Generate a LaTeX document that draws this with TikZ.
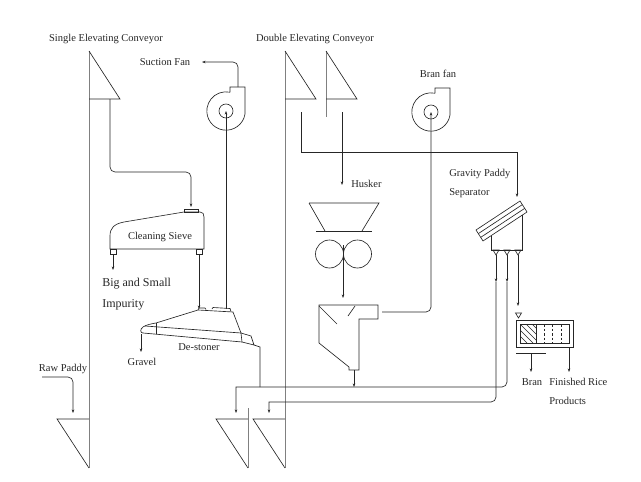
\documentclass[tikz,border=0pt]{standalone}
\usepackage{fontspec}
\setmainfont{Liberation Serif}
\usetikzlibrary{arrows.meta,calc}

\begin{document}
\begin{tikzpicture}[x=1pt,y=-1pt,line width=0.65pt,color=black!85,
    >={Stealth[length=3.5pt,width=2.6pt]},
    elev/.style={draw=black!50,line width=1pt},
    lbl/.style={font=\fontsize{10.5}{12}\selectfont,inner sep=0pt},
    big/.style={font=\fontsize{12}{14}\selectfont,inner sep=0pt,anchor=west},
    flow/.style={->,rounded corners=5pt}]
    \useasboundingbox (0,0) rectangle (641,482);

    % elevating conveyors
    \draw[elev] (89,51) -- (89,468);
    \draw[elev] (285,51) -- (285,468);
    \draw[elev] (326,51) -- (326,117);
    \draw[elev] (248,408) -- (248,468);
    \foreach \x in {89,285,326}
        \draw (\x,51) -- (\x+31,99) -- (\x,99);
    \foreach \x in {89,248,285}
        \draw (\x,419) -- (\x-32,419) -- (\x,468);
    \coordinate (c1-out) at (110,99);
    \coordinate (c2-out) at (301,112);
    \coordinate (c3-out) at (342,112);
    \coordinate (c1-in) at (73,413);
    \coordinate (c2-in) at (236,413);
    \coordinate (c3-in) at (269,413);
    \node[lbl] (single) at (106,39) {Single Elevating Conveyor};
    \node[lbl] (double) at (315,39) {Double Elevating Conveyor};

    % fans
    \foreach \cx/\cy/\nm in {226/111/sfan,431/112/bfan}{
        \draw (\cx,\cy) circle (7);
        \draw (\cx+4,\cy-19) -- (\cx+4,\cy-24) -- (\cx+19,\cy-24) -- (\cx+19,\cy+3)
            arc[start angle=9,end angle=282,radius=19.2];
        \coordinate (\nm) at (\cx,\cy);
    }
    \node[lbl] (suction) at (165,62) {Suction Fan};
    \node[lbl] (branfan) at (438,74) {Bran fan};
    \coordinate (sfan-out) at (238,87);
    \coordinate (sfan-tip) at (202,62);
    \draw[flow] (sfan-out) |- (sfan-tip);

    % cleaning sieve
    \draw (110,249) -- (110,236) .. controls (110,228) and (114,224) .. (124,222)
        -- (184,212) -- (200,212) .. controls (203,212) and (204,214) .. (204,217)
        -- (204,249) -- cycle;
    \draw (184,209) rectangle (198,212);
    \draw (110,249) rectangle (116,254);
    \draw (196,249) rectangle (202,254);
    \node[lbl] (sieve) at (160,237) {Cleaning Sieve};
    \coordinate (sieve-in) at (191,207);
    \coordinate (sieve-rej) at (113,254);
    \coordinate (rej-tip) at (113,270);
    \coordinate (sieve-out) at (199,254);
    \draw[flow] (c1-out) -- (110,172) -| (sieve-in);
    \draw[->] (sieve-rej) -- (rej-tip);
    \node[big] (bigsmall) at (102,284) {Big and Small};
    \node[big] (impurity) at (102,305) {Impurity};

    % de-stoner
    \draw (143,333) .. controls (140,333) and (140,329) .. (143,327)
        .. controls (146,325) and (150,324) .. (156,323) -- (198,310) -- (233,312)
        -- (241,333) -- (251,336) -- (254,345) -- (242,342) -- cycle;
    \draw (145,326) -- (241,333) -- (242,342);
    \draw (156,323) -- (156,334);
    \draw (198,310) -- (199,308) -- (205,308) -- (206,309.5);
    \draw (212,309) -- (213,307.5) -- (230,308.5) -- (231,311.5);
    \node[lbl] (destoner) at (199,347) {De-stoner};
    \node[lbl] (gravel) at (142,362) {Gravel};
    \coordinate (ds-in) at (199,309);
    \coordinate (ds-air) at (226,309);
    \coordinate (ds-grav) at (141,334);
    \coordinate (grav-tip) at (141,352);
    \coordinate (ds-out) at (254,345);
    \draw[->] (sieve-out) -- (ds-in);
    \draw[->] (ds-air) -- (sfan);
    \draw[->] (ds-grav) -- (grav-tip);
    \draw (ds-out) -- (260,347) -- (260,387);

    % husker
    \draw (309,203) -- (379,203) -- (362,231);
    \draw (309,203) -- (325,231);
    \draw (316,231) -- (372,231);
    \draw (329.5,254) circle (14) (357.5,254) circle (14);
    \node[lbl,anchor=west] (husker) at (351,184) {Husker};
    \coordinate (husk-in) at (342,185);
    \coordinate (husk-out) at (343,245);
    \coordinate (hop-in) at (343,298);
    \draw[->] (c3-out) -- (husk-in);
    \draw[->] (husk-out) -- (hop-in);

    % husk separating hopper
    \draw (319,305) -- (378,305) -- (378,319) -- (359,319) -- (359,370) -- (349,370)
        -- (349,367) -- (319,343) -- cycle;
    \draw (319,306) -- (337,324) (355,306) -- (348,316);
    \coordinate (hop-air) at (382,312);
    \coordinate (hop-out) at (354,370);
    \coordinate (hop-tip) at (354,387);
    \draw[->,rounded corners=5pt] (hop-air) -| (bfan);
    \draw[->] (hop-out) -- (hop-tip);

    % gravity paddy separator
    \coordinate (p1) at (476,230);
    \coordinate (p2) at (520,201);
    \coordinate (p3) at (527,212);
    \coordinate (p4) at (483,241);
    \draw (p1) -- (p2) -- (p3) -- (p4) -- cycle;
    \foreach \t in {0.33,0.67}
        \draw ($(p1)!\t!(p4)$) -- ($(p2)!\t!(p3)$);
    \draw (491,236) -- (491,250) -- (522,250) -- (522,215);
    \foreach \x/\nm in {496/sep-o1,507/sep-o2,518/sep-o3}{
        \draw (\x-3,250) -- (\x+3,250) -- (\x,255) -- cycle;
        \coordinate (\nm) at (\x,255);
    }
    \node[lbl,anchor=west] (gravity) at (449,174) {Gravity Paddy};
    \node[lbl,anchor=west] (separator) at (449,193) {Separator};
    \coordinate (sep-in) at (517,197);
    \draw[->] (c2-out) -- (301,152) -| (sep-in);

    % returns to the double conveyor
    \draw[->] (sep-o1) -- (496,282);
    \draw[->] (sep-o2) -- (507,282);
    \draw[->] (496,282) [rounded corners=5pt] |- (280,402) [sharp corners] -| (c3-in);
    \draw[->] (507,282) [rounded corners=5pt] |- (250,387) [sharp corners] -| (c2-in);

    % whitening machine
    \coordinate (pol-in) at (518,306);
    \draw[->] (sep-o3) -- (pol-in);
    \draw (515.5,313) -- (521.5,313) -- (518.5,318) -- cycle;
    \draw (516,320) rectangle (573,347);
    \draw (520,324) rectangle (569,343);
    \draw (536,324) -- (536,343);
    \begin{scope}
        \clip (520,324) rectangle (536,343);
        \foreach \d in {-18,-12,...,18}
            \draw (520+\d,324) -- (539+\d,343);
    \end{scope}
    \foreach \x in {544,552,561}
        \draw[dash pattern=on 2.5pt off 2pt] (\x,324) -- (\x,343);
    \draw (516,353) -- (546,353);
    \coordinate (bran-from) at (531,353);
    \coordinate (bran-tip) at (531,372);
    \coordinate (rice-from) at (569,347);
    \coordinate (rice-tip) at (569,372);
    \draw[->] (bran-from) -- (bran-tip);
    \draw[->] (rice-from) -- (rice-tip);
    \node[lbl] (bran) at (532,382) {Bran};
    \node[lbl,anchor=west] (rice) at (549,382) {Finished Rice};
    \node[lbl,anchor=west] (products) at (549,401) {Products};

    % raw paddy feed
    \node[lbl] (raw) at (63,369) {Raw Paddy};
    \coordinate (raw-from) at (42,377);
    \draw[flow] (raw-from) -| (c1-in);
\end{tikzpicture}
\end{document}
